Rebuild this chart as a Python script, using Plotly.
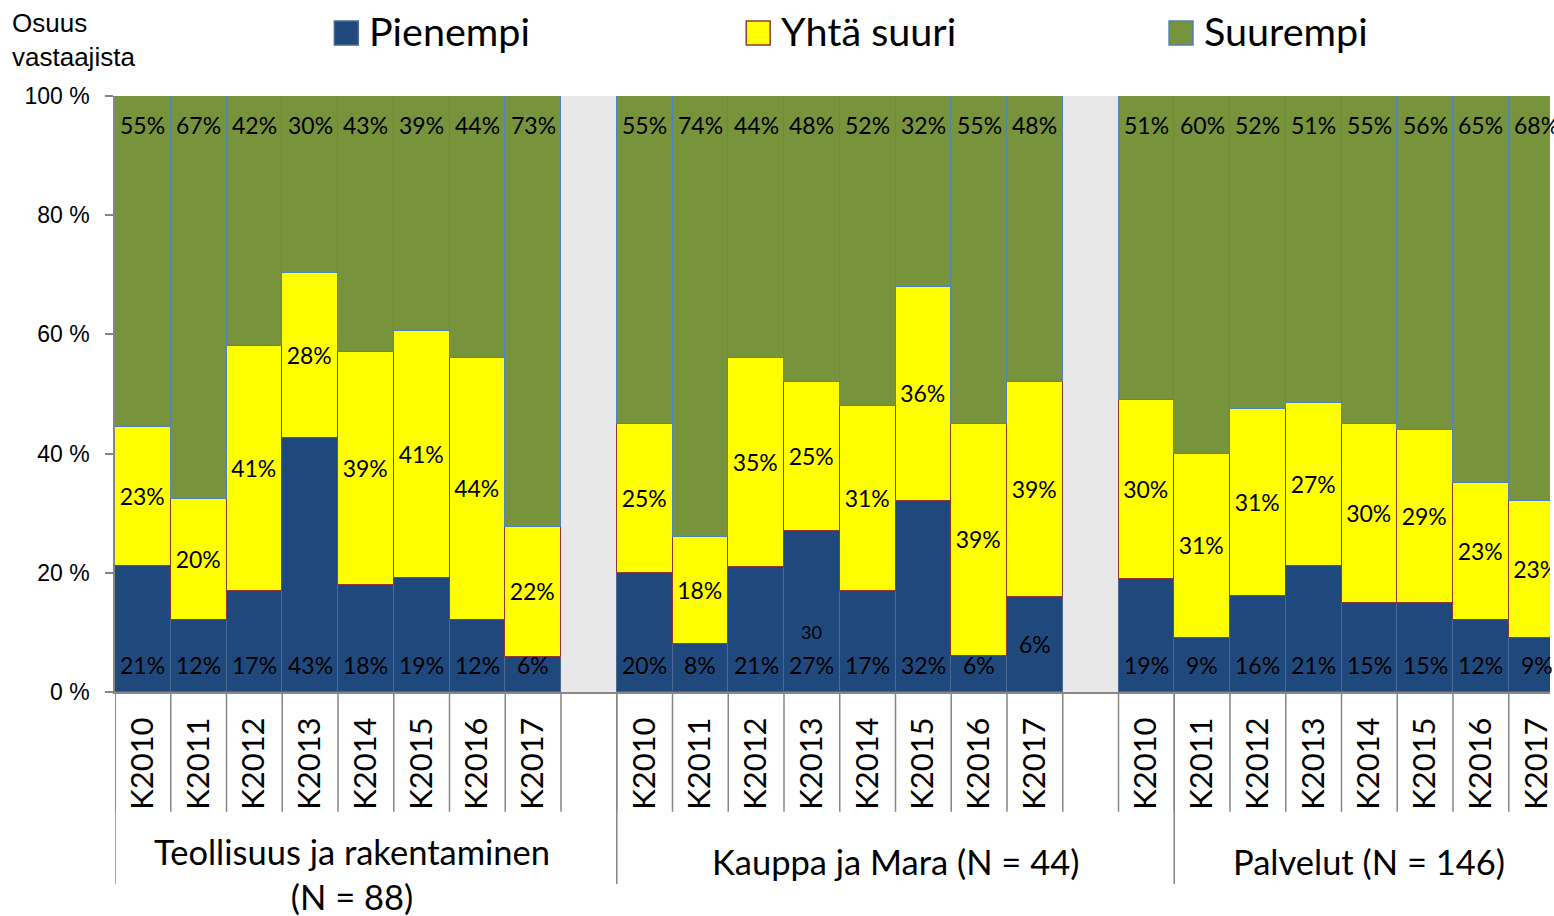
import plotly.graph_objects as go

# ---------------- data ----------------
years = ["K2010", "K2011", "K2012", "K2013", "K2014", "K2015", "K2016", "K2017"]
groups = ["Teollisuus ja rakentaminen<br>(N = 88)", "Kauppa ja Mara (N = 44)", "Palvelut (N = 146)"]
series_names = ["Pienempi", "Yhtä suuri", "Suurempi"]

pienempi_teol = [21, 12, 17, 43, 18, 19, 12, 6]
yhta_teol = [23, 20, 41, 28, 39, 41, 44, 22]
suurempi_teol = [55, 67, 42, 30, 43, 39, 44, 73]

pienempi_kauppa = [20, 8, 21, 27, 17, 32, 6, 16]
yhta_kauppa = [25, 18, 35, 25, 31, 36, 39, 36]
suurempi_kauppa = [55, 74, 44, 48, 52, 32, 55, 48]

pienempi_palv = [19, 9, 16, 21, 15, 15, 12, 9]
yhta_palv = [30, 31, 31, 27, 30, 29, 23, 23]
suurempi_palv = [51, 60, 52, 51, 55, 56, 65, 68]

# data labels as printed in the chart (some differ from the drawn values)
pienempi_kauppa_lbl = ["20%", "8%", "21%", "27%", "17%", "32%", "6%", "6%"]
yhta_kauppa_lbl = ["25%", "18%", "35%", "25%", "31%", "36%", "39%", "39%"]
extra_label_text = "30"          # stray label in Kauppa K2013
extra_label_value = 10

# ---------------- styling ----------------
fill_colors = ["#1F497D", "#FFFF00", "#77933C"]
edge_colors = ["#4A6890", "#953735", "#4F81BD"]
LABEL_FONT = "Lato, 'Noto Sans', sans-serif"
AXIS_FONT = "'Liberation Sans', Arial, sans-serif"
GRAY = "#868686"

pien = [pienempi_teol, pienempi_kauppa, pienempi_palv]
yhta = [yhta_teol, yhta_kauppa, yhta_palv]
suur = [suurempi_teol, suurempi_kauppa, suurempi_palv]

xs, pv, yv, sv, ptxt, ytxt, stxt, ticktext = [], [], [], [], [], [], [], []
for g in range(3):
    for i in range(8):
        xs.append(g * 9 + i)
        pv.append(pien[g][i]); yv.append(yhta[g][i]); sv.append(suur[g][i])
        if g == 1:
            ptxt.append(pienempi_kauppa_lbl[i]); ytxt.append(yhta_kauppa_lbl[i])
        else:
            ptxt.append(f"{pien[g][i]}%"); ytxt.append(f"{yhta[g][i]}%")
        stxt.append(f"{suur[g][i]}%")
        ticktext.append(years[i])

fig = go.Figure()
for name, vals, fc, ec, txt in zip(series_names, [pv, yv, sv], fill_colors, edge_colors,
                                   [None, ytxt, None]):
    fig.add_trace(go.Bar(
        x=xs, y=vals, name=name, width=1,
        marker=dict(color=fc, line=dict(color=ec, width=1.5)),
        text=txt, textposition="inside" if txt else "none",
        insidetextanchor="middle", textangle=0,
        textfont=dict(family=LABEL_FONT, size=23, color="black"),
        constraintext="none", cliponaxis=True, showlegend=False,
    ))

annotations = []
# navy labels at the base, green labels at the top
for k, x in enumerate(xs):
    tot = pv[k] + yv[k] + sv[k]
    if x == 9 + 7:  # Kauppa K2017: label centred in its segment
        annotations.append(dict(x=x, y=pv[k] / tot * 100 / 2, text=ptxt[k], showarrow=False,
                                font=dict(family=LABEL_FONT, size=23, color="black")))
    else:
        annotations.append(dict(x=x, y=0, yshift=27, text=ptxt[k], showarrow=False,
                                yanchor="middle",
                                font=dict(family=LABEL_FONT, size=23, color="black")))
    annotations.append(dict(x=x, y=100, yshift=-29, text=stxt[k], showarrow=False,
                            yanchor="middle",
                            font=dict(family=LABEL_FONT, size=23, color="black")))
annotations.append(dict(x=9 + 3, y=extra_label_value, text=extra_label_text, showarrow=False,
                        font=dict(family=LABEL_FONT, size=18, color="black")))

# group labels
group_x = [3.75, 13.5, 22.0]
for gx, gl in zip(group_x, groups):
    annotations.append(dict(x=gx, y=-0.305 if "<br>" in gl else -0.284, xref="x", yref="paper",
                            text=gl, showarrow=False, yanchor="middle",
                            font=dict(family=LABEL_FONT, size=34.5, color="black")))

# y-axis title
annotations.append(dict(x=-0.0735, y=1.151, xref="paper", yref="paper", xanchor="left",
                        yanchor="top", align="left", text="Osuus<br>vastaajista", showarrow=False,
                        font=dict(family=AXIS_FONT, size=26, color="black")))

shapes = []
# separators below the category axis
for k in range(26):
    shapes.append(dict(type="line", xref="x", yref="paper", x0=k - 0.5, x1=k - 0.5,
                       y0=0, y1=-0.201, line=dict(color=GRAY, width=1.5)))
for gx in [-0.5, 8.5, 18.5]:
    shapes.append(dict(type="line", xref="x", yref="paper", x0=gx, x1=gx,
                       y0=0, y1=-0.322, line=dict(color=GRAY, width=1.5)))

# legend (manual, top)
W, PLOT_L, PLOT_T, PLOT_H = 1554, 115, 96, 596
def px_x(p):
    return (p - PLOT_L) / (W - PLOT_L)
def px_y(p):
    return (PLOT_T + PLOT_H - p) / PLOT_H
legend_sq_left = [335, 748, 1172]
for name, fc, ec, lx in zip(series_names, fill_colors, edge_colors, legend_sq_left):
    shapes.append(dict(type="rect", xref="paper", yref="paper",
                       x0=px_x(lx), x1=px_x(lx + 24), y0=px_y(45), y1=px_y(21),
                       fillcolor=fc, line=dict(color=ec, width=1.5)))
    annotations.append(dict(x=px_x(lx + 33), y=px_y(31), xref="paper", yref="paper",
                            xanchor="left", yanchor="middle", text=name, showarrow=False,
                            font=dict(family=LABEL_FONT, size=39.5, color="black")))

fig.update_layout(
    width=1554, height=916,
    margin=dict(l=115, r=0, t=96, b=224),
    barmode="stack", barnorm="percent", bargap=0,
    plot_bgcolor="#E8E8E8", paper_bgcolor="white",
    annotations=annotations, shapes=shapes, showlegend=False,
    xaxis=dict(range=[-0.5, 25.24], tickmode="array", tickvals=xs, ticktext=ticktext,
               tickangle=-90, ticks="", showline=True, linecolor=GRAY, linewidth=2,
               showgrid=False, zeroline=False, ticklabelstandoff=11,
               ticklabeloverflow="allow",
               tickfont=dict(family=LABEL_FONT, size=31, color="black")),
    yaxis=dict(range=[0, 100], tickmode="array", tickvals=[0, 20, 40, 60, 80, 100],
               ticktext=["0 %", "20 %", "40 %", "60 %", "80 %", "100 %"],
               ticks="outside", ticklen=8, tickcolor=GRAY, tickwidth=1.5,
               showline=True, linecolor=GRAY, linewidth=1.5, showgrid=False, zeroline=False,
               ticklabelstandoff=11,
               tickfont=dict(family=AXIS_FONT, size=23, color="black")),
)

fig.write_html("out.html", config={"displayModeBar": False},
               post_script="document.body.style.margin='0';")
